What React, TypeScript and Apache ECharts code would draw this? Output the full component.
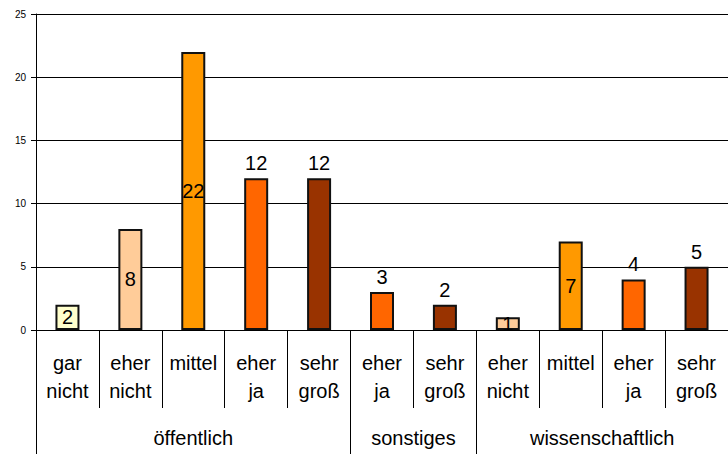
import React, { useEffect, useRef } from "react";
import * as echarts from "echarts";

const categories = [
  "gar nicht", "eher nicht", "mittel", "eher ja", "sehr groß",
  "eher ja", "sehr groß",
  "eher nicht", "mittel", "eher ja", "sehr groß",
];
const values = [2, 8, 22, 12, 12, 3, 2, 1, 7, 4, 5];
const groupNames = ["öffentlich", "sonstiges", "wissenschaftlich"];
const groupSizes = [5, 2, 4];
const yTicks = [0, 5, 10, 15, 20, 25];

// style config
const levelColors: Record<string, string> = {
  "gar nicht": "#FFFFCC",
  "eher nicht": "#FFCC99",
  "mittel": "#FF9900",
  "eher ja": "#FF6600",
  "sehr groß": "#993300",
};
const insideLabelIdx = new Set([0, 1, 2, 7, 8]);

export default function App() {
  const ref = useRef<HTMLDivElement>(null);
  useEffect(() => {
    document.body.style.margin = "0";
    if (!ref.current) return;
    const chart = echarts.init(ref.current, undefined, { renderer: "svg" });
    const font = "'Liberation Sans', Arial, sans-serif";
    const bounds: number[] = [0];
    const centers: number[] = [];
    let acc = 0;
    groupSizes.forEach((s) => {
      centers.push(acc + s / 2);
      acc += s;
      bounds.push(acc);
    });
    const labelText = (c: string) => c.replace(" ", "\n");
    chart.setOption({
      animation: false,
      grid: { left: 36, right: 0, top: 14, bottom: 124 },
      xAxis: [
        {
          type: "category",
          data: categories.map(labelText),
          position: "bottom",
          axisLine: { show: true, lineStyle: { color: "#000", width: 1 } },
          axisTick: { show: true, interval: 0, length: 78, lineStyle: { color: "#000" } },
          axisLabel: {
            interval: 0,
            fontFamily: font,
            fontSize: 20,
            lineHeight: 28,
            color: "#000",
            margin: 19,
            verticalAlign: "top",
          },
        },
        {
          type: "value",
          min: 0,
          max: categories.length,
          position: "bottom",
          offset: 0,
          axisLine: { show: false },
          splitLine: { show: false },
          axisTick: {
            show: true,
            customValues: bounds,
            length: 130,
            lineStyle: { color: "#000" },
          },
          axisLabel: {
            show: true,
            customValues: centers,
            formatter: (v: number) => {
              const i = centers.findIndex((c) => Math.abs(c - v) < 1e-6);
              return i >= 0 ? groupNames[i] : "";
            },
            fontFamily: font,
            fontSize: 20,
            color: "#000",
            margin: 98,
            verticalAlign: "top",
          },
        },
      ],
      yAxis: {
        type: "value",
        min: yTicks[0],
        max: yTicks[yTicks.length - 1],
        interval: 5,
        axisLine: { show: true, lineStyle: { color: "#000" } },
        axisTick: { show: true, length: 5, lineStyle: { color: "#000" } },
        splitLine: { show: true, lineStyle: { color: "#000", width: 1 } },
        axisLabel: { fontFamily: font, fontSize: 10, color: "#000", margin: 10 },
      },
      series: [
        {
          type: "bar",
          xAxisIndex: 0,
          barWidth: 24,
          data: values.map((v, i) => ({
            value: v,
            itemStyle: {
              color: levelColors[categories[i]],
              borderColor: "#111",
              borderWidth: 2,
            },
            label: {
              show: true,
              position: insideLabelIdx.has(i) ? "inside" : "top",
              distance: 5,
              fontFamily: font,
              fontSize: 20,
              color: "#000",
            },
          })),
        },
      ],
    });
    return () => chart.dispose();
  }, []);
  return <div ref={ref} style={{ width: 728, height: 454 }} />;
}
